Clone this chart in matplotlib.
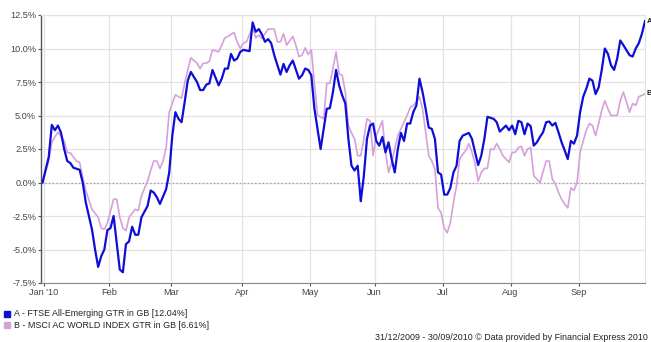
import numpy as np
import pandas as pd
import matplotlib
matplotlib.use("Agg")
import matplotlib.pyplot as plt

plt.rcParams['font.family'] = ['Liberation Sans', 'DejaVu Sans']

# trading-day index since 31/12/2009 and cumulative total return (%)
days_a = [0, 2, 3, 4, 5, 6, 7, 8, 9, 10, 12, 13, 14, 15, 16, 17, 18, 19, 20, 21,
          22, 23, 24, 25, 26, 27, 28, 29, 30, 31, 32, 34, 35, 36, 37, 38, 40, 41, 42, 43,
          44, 45, 46, 47, 48, 50, 51, 52, 53, 54, 55, 57, 58, 59, 60, 61, 62, 63, 64, 65,
          67, 68, 69, 70, 71, 72, 73, 74, 75, 77, 78, 79, 80, 81, 83, 84, 85, 86, 87, 88,
          90, 91, 92, 93, 94, 95, 96, 97, 98, 99, 100, 101, 102, 103, 104, 105, 106, 107, 108, 109,
          110, 111, 112, 113, 114, 115, 116, 117, 118, 119, 120, 121, 122, 123, 124, 125, 126, 127, 128, 129,
          130, 131, 132, 133, 134, 135, 136, 138, 139, 140, 141, 142, 143, 144, 146, 147, 148, 150, 151, 152,
          153, 154, 155, 156, 157, 158, 159, 160, 161, 162, 163, 164, 165, 166, 167, 168, 169, 170, 171, 172,
          173, 174, 175, 176, 177, 178, 179, 180, 181, 182, 183, 184, 185, 186, 187, 188, 190, 191, 192, 193,
          194, 195]
ret_a = [0.0, 1.9, 4.3, 3.9, 4.25, 3.7, 2.5, 1.6, 1.45, 1.1, 0.95, 0.0, -1.5, -2.5, -3.5, -5.0, -6.3, -5.5, -5.0, -3.55,
         -3.4, -2.5, -4.5, -6.5, -6.7, -4.6, -4.4, -3.3, -3.9, -3.9, -2.6, -1.75, -0.6, -0.75, -1.1, -1.6, -0.5, 0.75, 3.5, 5.25,
         4.75, 4.5, 6.0, 7.6, 8.25, 7.5, 6.9, 6.9, 7.3, 7.4, 8.4, 7.25, 7.75, 8.5, 8.5, 9.6, 9.1, 9.25, 9.75, 9.9,
         9.8, 11.95, 11.25, 11.45, 11.05, 10.5, 10.7, 10.4, 9.5, 8.05, 8.85, 8.25, 8.75, 9.1, 7.75, 8.0, 8.5, 8.4, 8.0, 5.5,
         2.5, 4.0, 5.5, 5.55, 6.75, 8.4, 7.25, 6.5, 5.9, 3.25, 1.25, 0.9, 1.25, -1.4, 0.5, 3.25, 4.25, 4.4, 3.1, 2.75,
         3.4, 2.25, 3.0, 1.75, 0.75, 2.5, 3.7, 3.1, 4.4, 4.4, 5.25, 5.75, 7.75, 6.75, 5.5, 4.1, 4.0, 3.25, 0.75, 0.6,
         -0.9, -0.9, -0.4, 0.75, 1.25, 3.1, 3.5, 3.7, 3.25, 2.25, 1.3, 2.0, 3.25, 4.9, 4.75, 4.5, 3.8, 4.25, 3.9, 4.25,
         3.6, 4.6, 4.5, 3.6, 4.4, 4.2, 2.75, 3.0, 3.4, 3.75, 4.5, 4.55, 4.25, 4.45, 3.75, 3.0, 2.4, 1.75, 3.1, 2.9,
         3.5, 5.25, 6.4, 7.0, 7.75, 7.6, 6.6, 7.1, 8.4, 10.0, 9.6, 8.75, 8.4, 9.25, 10.6, 10.25, 9.5, 9.4, 10.0, 10.4,
         11.1, 12.04]

days_b = [0, 2, 3, 4, 5, 7, 8, 9, 11, 12, 13, 14, 16, 18, 19, 20, 21, 23, 24, 25,
          26, 27, 28, 30, 31, 32, 34, 35, 36, 37, 38, 39, 40, 41, 43, 44, 45, 46, 47, 48,
          50, 51, 52, 53, 54, 55, 57, 58, 59, 60, 62, 63, 64, 65, 66, 68, 69, 70, 71, 72,
          73, 75, 76, 77, 78, 79, 81, 82, 83, 84, 85, 86, 87, 88, 89, 90, 91, 92, 93, 94,
          95, 96, 97, 98, 99, 100, 101, 102, 103, 104, 105, 106, 107, 108, 110, 111, 112, 113, 114, 115,
          116, 117, 118, 119, 120, 121, 122, 123, 124, 125, 126, 127, 128, 129, 130, 131, 132, 133, 134, 135,
          136, 137, 138, 139, 140, 141, 142, 143, 144, 145, 146, 147, 148, 149, 150, 151, 152, 153, 154, 155,
          156, 157, 158, 159, 160, 161, 162, 163, 164, 165, 166, 167, 168, 169, 170, 171, 172, 173, 174, 175,
          176, 177, 178, 179, 180, 181, 182, 183, 184, 185, 186, 187, 188, 189, 190, 191, 192, 193, 194, 195]
ret_b = [0.0, 1.6, 3.0, 3.4, 3.75, 3.1, 2.25, 2.2, 1.6, 1.5, 0.4, -0.6, -2.0, -2.6, -3.4, -3.5, -3.0, -1.25, -1.25, -2.6,
         -3.4, -3.6, -2.6, -2.0, -2.1, -1.0, 0.1, 0.9, 1.6, 1.6, 1.05, 1.6, 2.6, 5.25, 6.55, 6.4, 6.3, 7.4, 8.4, 9.3,
         8.9, 8.5, 8.9, 8.9, 9.05, 9.9, 9.75, 10.25, 10.8, 10.9, 11.2, 10.5, 10.0, 10.4, 10.5, 11.6, 10.8, 11.0, 10.75, 11.1,
         11.45, 11.45, 10.5, 10.5, 11.1, 10.25, 10.9, 10.25, 9.4, 9.5, 10.05, 9.55, 9.9, 7.4, 5.0, 4.9, 4.75, 7.4, 7.4, 8.5,
         9.75, 8.1, 8.0, 6.75, 4.25, 3.7, 3.25, 2.0, 2.0, 3.25, 4.75, 4.6, 2.0, 3.5, 4.6, 2.25, 0.75, 1.5, 2.5, 3.5,
         4.0, 4.5, 5.0, 5.6, 5.75, 6.0, 6.4, 5.5, 3.75, 2.0, 1.6, 1.0, -1.9, -2.25, -3.4, -3.75, -3.0, -1.5, -0.25, 1.75,
         2.1, 2.4, 2.9, 2.25, 1.4, 0.1, 0.75, 1.05, 1.05, 2.5, 2.45, 2.9, 2.5, 2.0, 1.75, 1.5, 2.25, 2.25, 2.6, 2.7,
         2.0, 2.5, 2.6, 0.5, 0.25, 0.0, 0.8, 1.6, 1.6, 0.25, -0.1, -0.75, -1.25, -1.6, -1.9, -0.4, -0.6, 0.0, 2.25, 3.1,
         3.9, 4.4, 4.25, 3.5, 4.4, 5.4, 6.1, 5.5, 5.0, 5.0, 5.0, 6.1, 6.75, 6.0, 5.25, 5.9, 5.75, 6.4, 6.5, 6.61]

month_starts = ['2010-01-01', '2010-02-01', '2010-03-01', '2010-04-01', '2010-05-01',
                '2010-06-01', '2010-07-01', '2010-08-01', '2010-09-01']
month_labels = ["Jan '10", 'Feb', 'Mar', 'Apr', 'May', 'Jun', 'Jul', 'Aug', 'Sep']
y_ticks = [-7.5, -5.0, -2.5, 0.0, 2.5, 5.0, 7.5, 10.0, 12.5]
name_a = 'A - FTSE All-Emerging GTR in GB [12.04%]'
name_b = 'B - MSCI AC WORLD INDEX GTR in GB [6.61%]'
footer = '31/12/2009 - 30/09/2010 \u00a9 Data provided by Financial Express 2010'

trading_days = pd.bdate_range('2009-12-31', '2010-09-30')
tick_pos = [trading_days.searchsorted(pd.Timestamp(m)) - 0.5 for m in month_starts]

W, H = 651, 342
fig = plt.figure(figsize=(W / 100, H / 100), dpi=100)
ax = fig.add_axes([41 / W, 1 - 283 / H, (645 - 41) / W, (283 - 15) / H])

col_a = '#0e0ed6'
col_b = '#d6a0da'
ax.plot(days_b, ret_b, color=col_b, lw=1.2, zorder=3)
ax.plot(days_a, ret_a, color=col_a, lw=1.6, zorder=4)
ax.axhline(0, color='#999999', lw=0.9, ls=(0, (1, 2)), zorder=2)

ax.set_xlim(-0.5, len(trading_days) - 1)
ax.set_ylim(-7.5, 12.5)
ax.set_xticks(tick_pos)
ax.set_xticklabels(month_labels)
ax.set_yticks(y_ticks)
ax.set_yticklabels([f'{v:.1f}%' for v in y_ticks])
ax.grid(True, color='#e2e2e2', lw=0.9, zorder=0)
ax.tick_params(axis='both', labelsize=6.6, colors='#555555', length=2.5, width=0.8, pad=1)
ax.tick_params(axis='both', labelcolor='#444444')
for s in ['top', 'right']:
    ax.spines[s].set_color('#e2e2e2')
ax.spines['left'].set_color('#555555')
ax.spines['bottom'].set_color('#888888')
ax.spines['left'].set_linewidth(1.0)

ax.annotate('A', xy=(1, ret_a[-1]), xycoords=('axes fraction', 'data'), xytext=(1, 0),
            textcoords='offset points', fontsize=5.5, fontweight='bold',
            ha='left', va='center', annotation_clip=False, color='#222222')
ax.annotate('B', xy=(1, ret_b[-1]), xycoords=('axes fraction', 'data'), xytext=(1, 0),
            textcoords='offset points', fontsize=5.5, fontweight='bold',
            ha='left', va='center', annotation_clip=False, color='#222222')

# legend
fig.patches.append(plt.Rectangle((4 / W, 1 - 317 / H), 6 / W, 6 / H, color=col_a, transform=fig.transFigure))
fig.patches.append(plt.Rectangle((4 / W, 1 - 328 / H), 6 / W, 6 / H, color=col_b, transform=fig.transFigure))
fig.text(14 / W, 1 - 314 / H, name_a, fontsize=6.4, va='center', ha='left', color='#222222')
fig.text(14 / W, 1 - 325 / H, name_b, fontsize=6.4, va='center', ha='left', color='#222222')
fig.text(648 / W, 1 - 337 / H, footer, fontsize=6.4, va='center', ha='right', color='#222222')

fig.savefig('out.png', dpi=100)
